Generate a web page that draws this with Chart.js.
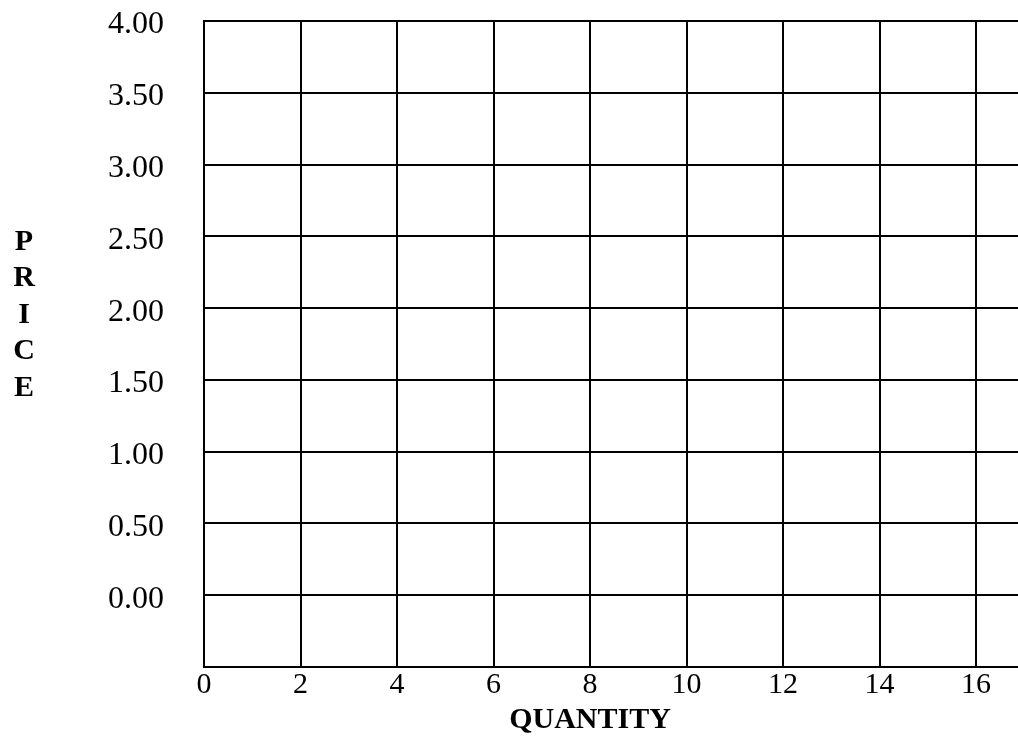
<!DOCTYPE html>
<html>
<head>
<meta charset="utf-8">
<script src="https://cdn.jsdelivr.net/npm/chart.js@4"></script>
<style>
  body { margin: 0; background: #fff; }
  #wrap { width: 1018px; height: 736px; }
</style>
</head>
<body>
<div id="wrap"><canvas id="gridChart"></canvas></div>
<script>
const quantityTicks = [0, 2, 4, 6, 8, 10, 12, 14, 16];
const priceTicks = [0, 0.5, 1, 1.5, 2, 2.5, 3, 3.5, 4];
const quantityRange = [0, 16.87];
const priceRange = [-0.5, 4];
const xTitle = 'QUANTITY';
const yTitle = 'PRICE';

const serif = '"Liberation Serif", "Times New Roman", serif';

// titles: stacked letters on the left, x title centred under the ticks
const axisTitles = {
    id: 'axisTitles',
    afterDraw(chart) {
        const { ctx, scales: { x, y } } = chart;
        ctx.save();
        ctx.font = 'bold 30px ' + serif;
        ctx.fillStyle = '#000';
        ctx.textAlign = 'center';
        ctx.textBaseline = 'middle';
        const midY = y.getPixelForValue(2) + 7;
        const letters = yTitle.split('');
        letters.forEach((ch, i) => {
            ctx.fillText(ch, 24, midY + (i - (letters.length - 1) / 2) * 36.5);
        });
        const midX = x.getPixelForValue(quantityTicks[quantityTicks.length - 1] / 2);
        ctx.fillText(xTitle, midX, 720);
        ctx.restore();
    }
};

new Chart(document.getElementById('gridChart'), {
    type: 'scatter',
    data: { datasets: [{ data: [] }] },
    options: {
        responsive: true,
        maintainAspectRatio: false,
        animation: false,
        layout: { padding: { top: 21, left: 0, right: 0, bottom: 0 } },
        plugins: { legend: { display: false }, tooltip: { enabled: false } },
        scales: {
            x: {
                type: 'linear',
                min: quantityRange[0],
                max: quantityRange[1],
                afterBuildTicks: scale => { scale.ticks = quantityTicks.map(v => ({ value: v })); },
                afterFit: scale => { scale.height = 69; },
                grid: { color: '#000', lineWidth: 2, drawTicks: false },
                border: { color: '#000', width: 2 },
                ticks: {
                    color: '#000',
                    font: { family: serif, size: 30 },
                    padding: 0,
                    maxRotation: 0
                }
            },
            y: {
                type: 'linear',
                min: priceRange[0],
                max: priceRange[1],
                afterBuildTicks: scale => { scale.ticks = priceTicks.map(v => ({ value: v })); },
                afterFit: scale => {
                    scale.width = 204;
                    scale.paddingTop = 0;
                    scale.paddingBottom = 0;
                },
                grid: { color: '#000', lineWidth: 2, drawTicks: false },
                border: { color: '#000', width: 2 },
                ticks: {
                    color: '#000',
                    font: { family: serif, size: 32 },
                    padding: 40,
                    labelOffset: 4,
                    callback: v => v.toFixed(2)
                }
            }
        }
    },
    plugins: [axisTitles]
});
</script>
</body>
</html>
